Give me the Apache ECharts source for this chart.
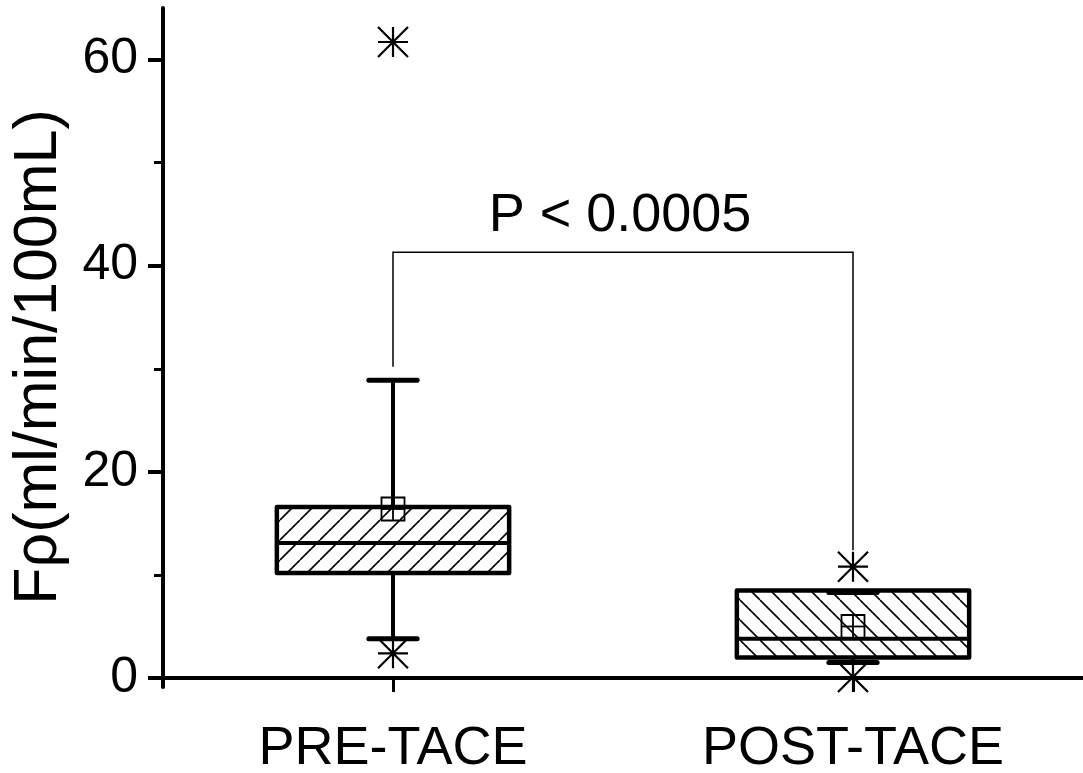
<!DOCTYPE html>
<html><head><meta charset="utf-8">
<script src="https://cdn.jsdelivr.net/npm/echarts@6/dist/echarts.min.js"></script>
<style>html,body{margin:0;padding:0;background:#fff}#c{width:1083px;height:773px}</style>
</head><body><div id="c"></div>
<script>
// ---- data ----
const categories = ['PRE-TACE', 'POST-TACE'];
const whiskerLow = [3.8, 1.5];
const q1 = [10.2, 2.0];
const median = [13.1, 3.8];
const q3 = [16.6, 8.5];
const whiskerHigh = [28.9, 8.3];
const mean = [16.4, 5.0];
const outliers = [[0, 61.7], [0, 2.4], [1, 10.8], [1, 0.1]];
const majorTicks = [0, 20, 40, 60];
const minorTicks = [10, 30, 50];
const bracket = [[0, 1, 41.3, 30.2, 12.4]]; // left cat, right cat, top, left end, right end
const pLabel = 'P < 0.0005';
const yTitle = 'Fρ(ml/min/100mL)';

const FONT = '"Liberation Sans", Arial, Helvetica, sans-serif';

function makeHatch(dir) {
  const s = 20;
  const c = document.createElement('canvas');
  c.width = s; c.height = s;
  const g = c.getContext('2d');
  g.strokeStyle = '#000';
  g.lineWidth = 1.6;
  g.beginPath();
  for (let k = -1; k <= 1; k++) {
    if (dir > 0) { g.moveTo(k * s, s); g.lineTo(k * s + s, 0); }
    else { g.moveTo(k * s, 0); g.lineTo(k * s + s, s); }
  }
  g.stroke();
  return c;
}
const hatches = [makeHatch(1), makeHatch(-1)];

const boxData = categories.map((c, i) => [i, whiskerLow[i], q1[i], median[i], q3[i], whiskerHigh[i], mean[i]]);

function renderBox(params, api) {
  const i = api.value(0);
  const band = api.size([1, 0])[0];
  const bw = band * 0.505;
  const capW = band * 0.105;
  const pLow = api.coord([i, api.value(1)]);
  const pQ1 = api.coord([i, api.value(2)]);
  const pMed = api.coord([i, api.value(3)]);
  const pQ3 = api.coord([i, api.value(4)]);
  const pHigh = api.coord([i, api.value(5)]);
  const pMean = api.coord([i, api.value(6)]);
  const cx = pQ1[0];
  const x0 = cx - bw / 2, x1 = cx + bw / 2;
  const sq = 23;
  const blk = '#000';
  return {
    type: 'group',
    children: [
      { type: 'rect', shape: { x: x0, y: pQ3[1], width: bw, height: pQ1[1] - pQ3[1] },
        style: { fill: { image: hatches[i], repeat: 'repeat' }, stroke: null } },
      { type: 'line', shape: { x1: cx, y1: pQ3[1], x2: cx, y2: pHigh[1] }, style: { stroke: blk, lineWidth: 4 } },
      { type: 'line', shape: { x1: cx, y1: pQ1[1], x2: cx, y2: pLow[1] }, style: { stroke: blk, lineWidth: 4 } },
      { type: 'rect', shape: { x: x0, y: pQ3[1], width: bw, height: pQ1[1] - pQ3[1] },
        style: { fill: 'transparent', stroke: blk, lineWidth: 4.5, lineJoin: 'round' } },
      { type: 'line', shape: { x1: x0, y1: pMed[1], x2: x1, y2: pMed[1] }, style: { stroke: blk, lineWidth: 4 } },
      { type: 'line', shape: { x1: cx - capW / 2, y1: pHigh[1], x2: cx + capW / 2, y2: pHigh[1] }, style: { stroke: blk, lineWidth: 5, lineCap: 'round' } },
      { type: 'line', shape: { x1: cx - capW / 2, y1: pLow[1], x2: cx + capW / 2, y2: pLow[1] }, style: { stroke: blk, lineWidth: 5, lineCap: 'round' } },
      { type: 'rect', shape: { x: cx - sq / 2, y: pMean[1] - sq / 2, width: sq, height: sq }, style: { fill: 'transparent', stroke: blk, lineWidth: 1.8 } },
      { type: 'line', shape: { x1: cx - sq / 2, y1: pMean[1], x2: cx + sq / 2, y2: pMean[1] }, style: { stroke: blk, lineWidth: 1.8 } },
      { type: 'line', shape: { x1: cx, y1: pMean[1] - sq / 2, x2: cx, y2: pMean[1] + sq / 2 }, style: { stroke: blk, lineWidth: 1.8 } }
    ]
  };
}

function renderBracket(params, api) {
  const a = api.coord([api.value(0), api.value(3)]);
  const aTop = api.coord([api.value(0), api.value(2)]);
  const bTop = api.coord([api.value(1), api.value(2)]);
  const b = api.coord([api.value(1), api.value(4)]);
  return {
    type: 'group',
    children: [
      { type: 'polyline', shape: { points: [a, aTop, bTop, b] }, style: { stroke: '#000', lineWidth: 1.5, fill: null } },
      { type: 'text', x: (aTop[0] + bTop[0]) / 2 - 3, y: aTop[1] - 36,
        style: { text: pLabel, fontSize: 54, fontFamily: FONT, fill: '#000', align: 'center', verticalAlign: 'middle' } }
    ]
  };
}

const chart = echarts.init(document.getElementById('c'), null, { renderer: 'canvas' });
chart.setOption({
  animation: false,
  backgroundColor: '#fff',
  grid: { left: 163, right: 0, top: 8, bottom: 86, containLabel: false, outerBoundsMode: 'none' },
  xAxis: {
    type: 'category', data: categories, boundaryGap: true,
    axisLine: { lineStyle: { color: '#000', width: 4 } },
    axisTick: { show: true, interval: 0, alignWithLabel: true, length: 14, lineStyle: { color: '#000', width: 3 } },
    axisLabel: { fontSize: 54, fontFamily: FONT, color: '#000', margin: 35 },
    splitLine: { show: false }
  },
  yAxis: [{
    type: 'value', min: -0.87, max: 65, position: 'left',
    axisLine: { show: true, lineStyle: { color: '#000', width: 4 } },
    axisTick: { show: true, customValues: majorTicks, length: 15, lineStyle: { color: '#000', width: 4 } },
    axisLabel: { customValues: majorTicks, fontSize: 50, fontFamily: FONT, color: '#000', margin: 25 },
    splitLine: { show: false }
  }, {
    type: 'value', min: -0.87, max: 65, position: 'left', offset: 0,
    axisLine: { show: false },
    axisTick: { show: true, customValues: minorTicks, length: 9, lineStyle: { color: '#000', width: 3 } },
    axisLabel: { show: false },
    splitLine: { show: false }
  }],
  graphic: [{
    type: 'text', x: 39, y: 357, rotation: Math.PI / 2,
    style: { text: yTitle, fontSize: 61, fontFamily: FONT, fill: '#000', align: 'center', verticalAlign: 'middle' }
  }],
  series: [{
    type: 'custom', name: 'box', data: boxData, renderItem: renderBox,
    encode: { x: 0, y: [1, 2, 3, 4, 5, 6] }, z: 3
  }, {
    type: 'custom', name: 'bracket', data: bracket, renderItem: renderBracket,
    encode: { x: [0, 1], y: [2, 3, 4] }, z: 2
  }, {
    type: 'scatter', name: 'outliers', data: outliers,
    symbol: 'path://M0,0L20,20M0,20L20,0M10,0L10,20M0,10L20,10',
    symbolSize: 30,
    itemStyle: { color: '#000', borderColor: '#000', borderWidth: 2.2, opacity: 1 },
    z: 4
  }]
});
</script></body></html>
